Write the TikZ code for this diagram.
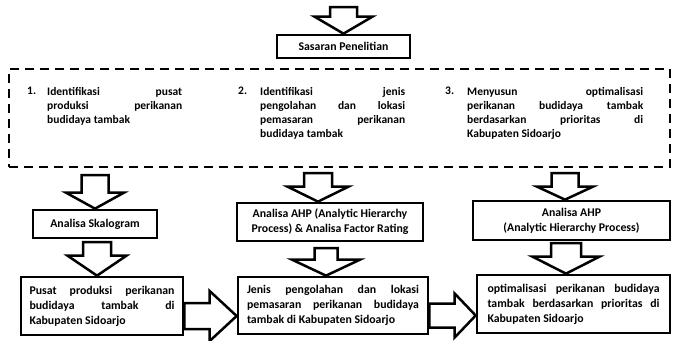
\documentclass[tikz,border=0pt]{standalone}
\usepackage{fontspec}
\setmainfont{Carlito}
\usetikzlibrary{calc}
\newcommand\jl[2]{\makebox[#1][s]{#2}}
\newcommand\blkdown[5]{%
  \draw[blk] ($(#1)+(-#3,0)$) -- ($(#2)+(-#3,-#5)$) -- ($(#2)+(-#4,-#5)$) -- (#2)
    -- ($(#2)+(#4,-#5)$) -- ($(#2)+(#3,-#5)$) -- ($(#1)+(#3,0)$) -- cycle;}
\newcommand\blkright[5]{%
  \draw[blk] ($(#1)+(0,-#3)$) -- ($(#2)+(-#5,-#3)$) -- ($(#2)+(-#5,-#4)$) -- (#2)
    -- ($(#2)+(-#5,#4)$) -- ($(#2)+(-#5,#3)$) -- ($(#1)+(0,#3)$) -- cycle;}
\tikzset{
  blk/.style={draw=black, fill=white, line width=2.5pt, line join=miter},
  box/.style={draw=black, line width=2.7pt, inner sep=0pt, fill=white,
    font=\bfseries\fontsize{11.8}{15}\selectfont},
  dashbox/.style={draw=black, line width=2.8pt, dash pattern=on 9pt off 6pt, inner sep=0pt},
  itemtxt/.style={inner sep=0pt, align=left, anchor=north west,
    font=\bfseries\fontsize{11.5}{14.2}\selectfont},
}
\begin{document}
\begin{tikzpicture}[x=1pt,y=-1pt]
\useasboundingbox (0,0) rectangle (674,340);
% top
\node[box, minimum width=133pt, minimum height=23pt] (sas) at (343.5,46.5) {Sasaran Penelitian};
\coordinate (a0s) at (343.5,7);
\coordinate (a0e) at (a0s |- sas.north);
\blkdown{a0s}{a0e}{13.5}{29}{17}
% dashed box
\node[dashbox, minimum width=661pt, minimum height=98pt] (dash) at (339.5,118) {};
\node[itemtxt] (n1) at (27,87) {1.};
\node[itemtxt] (t1) at (47,87) {\jl{135pt}{Identifikasi pusat}\\\jl{135pt}{produksi perikanan}\\budidaya tambak};
\node[itemtxt] (n2) at (238,87) {2.};
\node[itemtxt] (t2) at (260,87) {\jl{145pt}{Identifikasi jenis}\\\jl{145pt}{pengolahan dan lokasi}\\\jl{145pt}{pemasaran perikanan}\\budidaya tambak};
\node[itemtxt] (n3) at (445,87) {3.};
\node[itemtxt] (t3) at (467,87) {\jl{176pt}{Menyusun optimalisasi}\\\jl{176pt}{perikanan budidaya tambak}\\\jl{176pt}{berdasarkan prioritas di}\\Kabupaten Sidoarjo};
% analysis boxes
\node[box, minimum width=124pt, minimum height=28pt] (skal) at (95,224) {Analisa Skalogram};
\node[box, minimum width=186pt, minimum height=38pt, align=center] (ahp2) at (330,222) {Analisa AHP (Analytic Hierarchy\\Process) \& Analisa Factor Rating};
\node[box, minimum width=197pt, minimum height=39pt, align=center] (ahp3) at (571.5,220.5) {Analisa AHP\\(Analytic Hierarchy Process)};
% result boxes
\node[box, minimum width=162pt, minimum height=58pt, align=left] (pusat) at (102,306) {\jl{145pt}{Pusat produksi perikanan}\\\jl{145pt}{budidaya tambak di}\\Kabupaten Sidoarjo};
\node[box, minimum width=190pt, minimum height=57pt, align=left] (jenis) at (333,305.5) {\jl{172pt}{Jenis pengolahan dan lokasi}\\\jl{172pt}{pemasaran perikanan budidaya}\\tambak di Kabupaten Sidoarjo};
\node[box, minimum width=193pt, minimum height=58pt, align=left] (opt) at (573.5,304) {\jl{172pt}{optimalisasi perikanan budidaya}\\\jl{172pt}{tambak berdasarkan prioritas di}\\Kabupaten Sidoarjo};
% down arrows
\coordinate (a1s) at (95,175);  \coordinate (a1e) at (a1s |- skal.north);
\blkdown{a1s}{a1e}{13.5}{29}{16}
\coordinate (a2s) at (97,242);  \coordinate (a2e) at (a2s |- pusat.north);
\blkdown{a2s}{a2e}{14}{29.5}{20}
\coordinate (a3s) at (318,173); \coordinate (a3e) at (a3s |- ahp2.north);
\blkdown{a3s}{a3e}{14}{30.5}{15}
\coordinate (a4s) at (326,248); \coordinate (a4e) at (a4s |- jenis.north);
\blkdown{a4s}{a4e}{11.5}{34}{16}
\coordinate (a5s) at (565,173); \coordinate (a5e) at (a5s |- ahp3.north);
\blkdown{a5s}{a5e}{13.5}{28}{13}
\coordinate (a6s) at (566,243); \coordinate (a6e) at (a6s |- opt.north);
\blkdown{a6s}{a6e}{15}{33.5}{17}
% right arrows
\coordinate (r1s) at ($(pusat.east)+(0,10)$); \coordinate (r1e) at (jenis.west |- r1s);
\blkright{r1s}{r1e}{13}{25}{27}
\coordinate (r2s) at ($(jenis.east)+(0,10)$); \coordinate (r2e) at (opt.west |- r2s);
\blkright{r2s}{r2e}{12}{22}{21}
\end{tikzpicture}
\end{document}
